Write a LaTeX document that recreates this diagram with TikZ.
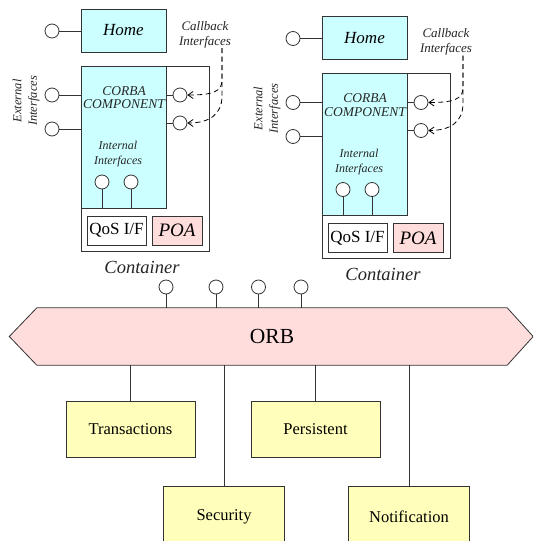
\documentclass[tikz,border=0pt]{standalone}
\usepackage{fontspec}
\setmainfont{Liberation Serif}
\usetikzlibrary{arrows.meta}
\definecolor{cyanfill}{HTML}{CCFFFF}
\definecolor{pinkfill}{HTML}{FFDDDD}
\definecolor{yellowfill}{HTML}{FFFFBB}
\definecolor{linegray}{HTML}{333333}

\newcommand\ccmunit[3]{%
\begin{scope}[shift={(#2,#3)}]
  % home
  \node[cbox, minimum width=85pt, minimum height=43pt, font=\fontsize{17}{19}\selectfont\itshape] (home#1) at (123.5,30.5) {Home};
  \node[iface] (hc#1) at (52,31) {};
  \draw[conn] (hc#1) -- (hc#1 -| home#1.west);
  \node[lbl, font=\fontsize{13}{15}\selectfont\itshape] (cb#1) at (205,34.5) {Callback\\Interfaces};
  % container and component
  \node[wbox, minimum width=128pt, minimum height=185pt] (cont#1) at (145,158.5) {};
  \node[cbox, minimum width=85pt, minimum height=142pt] (comp#1) at (123.5,137) {};
  \node[lbl, font=\fontsize{13.5}{13.5}\selectfont\itshape] (ctext#1) at (124,97.5) {CORBA\\COMPONENT};
  \node[lbl, font=\fontsize{12}{15}\selectfont\itshape] (itext#1) at (118,154.5) {Internal\\Interfaces};
  \node[lbl, rotate=90, font=\fontsize{12.5}{15.5}\selectfont\itshape] (etext#1) at (26,101) {External\\Interfaces};
  % external interfaces
  \node[iface] (ec1#1) at (52,95) {};
  \node[iface] (ec2#1) at (52,129) {};
  \draw[conn] (ec1#1) -- (ec1#1 -| comp#1.west);
  \draw[conn] (ec2#1) -- (ec2#1 -| comp#1.west);
  % callback receptacles
  \node[iface] (rc1#1) at (180,95) {};
  \node[iface] (rc2#1) at (180,123) {};
  \draw[conn] (rc1#1) -- (rc1#1 -| comp#1.east);
  \draw[conn] (rc2#1) -- (rc2#1 -| comp#1.east);
  % internal interfaces
  \node[iface] (ic1#1) at (102,182) {};
  \node[iface] (ic2#1) at (131,182) {};
  \draw[conn] (ic1#1) -- (ic1#1 |- comp#1.south);
  \draw[conn] (ic2#1) -- (ic2#1 |- comp#1.south);
  % QoS / POA
  \node[wbox, minimum width=59pt, minimum height=29pt, font=\fontsize{17}{19}\selectfont] (qos#1) at (116.5,230.5) {QoS I/F};
  \node[box, fill=pinkfill, minimum width=50pt, minimum height=29pt, font=\fontsize{19}{21}\selectfont\itshape] (poa#1) at (177,230.5) {POA};
  \node[lbl, font=\fontsize{18.5}{20}\selectfont\itshape] (clbl#1) at (142,267) {Container};
  % callback dashed arrows
  \coordinate (cbs#1) at (222,48);
  \draw[cb] (cbs#1) -- (222,80) .. controls (222,92) and (212,95) .. (rc1#1.east);
  \draw[cb] (cbs#1) -- (222,96) .. controls (222,114) and (210,123) .. (rc2#1.east);
\end{scope}}

\begin{document}
\begin{tikzpicture}[x=1pt,y=-1pt,
  box/.style={draw=linegray, line width=0.8pt, inner sep=0pt},
  cbox/.style={box, fill=cyanfill},
  wbox/.style={box, fill=white},
  ybox/.style={box, fill=yellowfill, font=\fontsize{16.5}{19}\selectfont},
  iface/.style={circle, draw=linegray, fill=white, line width=0.8pt, minimum size=14pt, inner sep=0pt},
  conn/.style={draw=linegray, line width=0.8pt},
  lbl/.style={align=center, inner sep=0pt, text=black!85},
  cb/.style={draw=black, line width=0.8pt, dash pattern=on 5pt off 3.5pt, -{Straight Barb[length=5pt,width=7pt]}}
]
\clip (0,0) rectangle (533,541);
\fill[white] (0,0) rectangle (533,541);

\ccmunit{A}{0}{0}
\ccmunit{B}{241}{7.5}

% ORB
\node[minimum width=470pt, minimum height=57pt, inner sep=0pt] (orb) at (272,336.5) {};
\filldraw[fill=pinkfill, draw=linegray, line width=0.8pt]
  (orb.north west) -- (orb.north east) -- ([xshift=26pt]orb.east) -- (orb.south east)
  -- (orb.south west) -- ([xshift=-27.5pt]orb.west) -- cycle;
\node[font=\fontsize{21.5}{24}\selectfont] (orbtext) at (orb.center) {ORB};

% ORB interfaces
\node[iface] (oc1) at (166,287) {};
\node[iface] (oc2) at (216,287) {};
\node[iface] (oc3) at (258.5,287) {};
\node[iface] (oc4) at (301,287) {};
\foreach \c in {oc1,oc2,oc3,oc4} \draw[conn] (\c) -- (\c |- orb.north);

% services
\node[ybox, minimum width=129pt, minimum height=56pt] (trans) at (130.5,429) {Transactions};
\node[ybox, minimum width=129pt, minimum height=56pt] (pers) at (315.5,429) {Persistent};
\node[ybox, minimum width=121pt, minimum height=62pt] (sec) at (224,517) {Security};
\node[ybox, minimum width=121pt, minimum height=62pt] (notif) at (409,517) {Notification};
\foreach \s in {trans,pers,sec,notif} \draw[conn] (\s.north) -- (\s.north |- orb.south);
\end{tikzpicture}
\end{document}
